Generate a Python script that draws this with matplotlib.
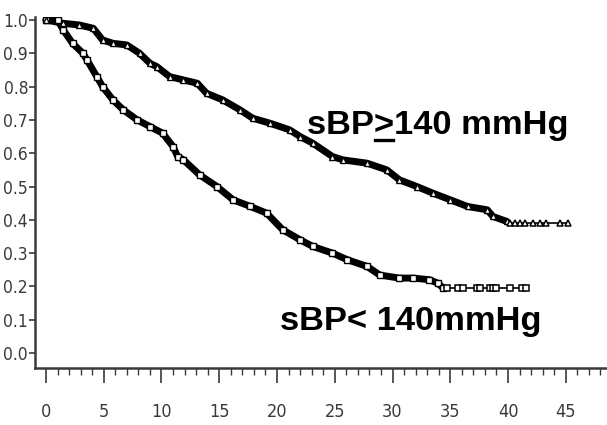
import numpy as np
import matplotlib
matplotlib.use("Agg")
import matplotlib.pyplot as plt
from matplotlib.font_manager import FontProperties
from matplotlib.lines import Line2D


# survival estimates (time, proportion) for the two blood-pressure groups
LOW_TIME = [0, 1.0, 1.5, 2.3, 3.2, 3.55, 4.4, 4.9, 5.8, 6.7, 7.9, 9.0, 10.1,
            11.0, 11.4, 11.9, 13.3, 14.8, 16.2, 17.7, 19.1, 20.5, 22.0, 23.1,
            24.8, 26.1, 27.8, 28.9, 30.6, 31.8, 33.2, 33.9, 34.4]
LOW_SURV = [1.0, 1.0, 0.97, 0.93, 0.90, 0.88, 0.83, 0.80, 0.76, 0.73, 0.70,
            0.68, 0.66, 0.62, 0.59, 0.58, 0.535, 0.50, 0.46, 0.44, 0.42, 0.37,
            0.34, 0.32, 0.30, 0.28, 0.26, 0.234, 0.225, 0.225, 0.22, 0.21,
            0.195]
LOW_TAIL_TIME = [34.7, 35.7, 36.1, 37.3, 37.6, 38.4, 38.7, 39.0, 40.2, 41.2,
                 41.6]
LOW_TAIL_SURV = 0.195

HIGH_TIME = [0, 1.5, 2.9, 4.1, 4.9, 5.8, 7.0, 8.1, 9.0, 9.6, 10.7, 11.9,
             13.1, 13.9, 15.3, 16.8, 17.9, 19.4, 21.1, 22.0, 23.1, 24.8, 25.7,
             27.8, 29.5, 30.6, 32.1, 33.5, 35.0, 36.5, 38.2, 38.7, 39.9]
HIGH_SURV = [1.0, 0.99, 0.985, 0.975, 0.94, 0.93, 0.925, 0.90, 0.87, 0.86,
             0.83, 0.82, 0.81, 0.78, 0.76, 0.73, 0.705, 0.69, 0.67, 0.65, 0.63,
             0.59, 0.58, 0.57, 0.55, 0.52, 0.50, 0.48, 0.46, 0.44, 0.43, 0.41,
             0.395]
HIGH_TAIL_TIME = [40.2, 40.6, 41.0, 41.5, 42.2, 42.8, 43.3, 44.5, 45.2]
HIGH_TAIL_SURV = 0.39

X_TICKS = list(range(0, 50, 5))
Y_TICKS = [round(v * 0.1, 1) for v in range(11)]

AXIS_GREY = "#3a3a3a"
X_TICK_FONT = FontProperties(family=["DejaVu Sans"], stretch="condensed",
                             size=13)
Y_TICK_FONT = FontProperties(family=["DejaVu Sans"], stretch="condensed",
                             size=12.5)


def draw_group(ax, t, s, tail_t, tail_s, marker):
    # dense part of the curve: heavy band with open censor markers on top
    ax.plot(t, s, color="black", lw=5, solid_capstyle="round",
            solid_joinstyle="round", zorder=2)
    ax.plot(t, s, linestyle="none", marker=marker, ms=4.5, mfc="white",
            mec="black", mew=1.0, zorder=3)
    # flat tail after the last event
    tail_x = [t[-1]] + tail_t
    tail_y = [tail_s] * len(tail_x)
    ax.plot([t[-1], t[-1]], [s[-1], tail_s], color="black", lw=1.2, zorder=2)
    ax.plot(tail_x, tail_y, color="black", lw=1.2, zorder=2)
    ax.plot(tail_t, [tail_s] * len(tail_t), linestyle="none", marker=marker,
            ms=5, mfc="white", mec="black", mew=1.1, zorder=3)


def main():
    fig = plt.figure(figsize=(6.07, 4.25), dpi=100)
    ax = fig.add_axes([35 / 607, 57 / 425, 572 / 607, 351 / 425])

    draw_group(ax, LOW_TIME, LOW_SURV, LOW_TAIL_TIME, LOW_TAIL_SURV, "s")
    draw_group(ax, HIGH_TIME, HIGH_SURV, HIGH_TAIL_TIME, HIGH_TAIL_SURV, "^")

    ax.set_xlim(-0.95, 48.57)
    ax.set_ylim(-0.045, 1.009)

    for side in ("top", "right"):
        ax.spines[side].set_visible(False)
    for side in ("left", "bottom"):
        ax.spines[side].set_color(AXIS_GREY)
        ax.spines[side].set_linewidth(1.8)

    ax.set_xticks(X_TICKS)
    ax.set_xticks(range(0, 49), minor=True)
    ax.set_yticks(Y_TICKS)
    ax.set_xticklabels([str(v) for v in X_TICKS])
    ax.set_yticklabels([f"{v:.1f}" for v in Y_TICKS])

    ax.tick_params(axis="x", which="major", length=11, width=1.2,
                   color=AXIS_GREY, pad=14, labelcolor=AXIS_GREY)
    ax.tick_params(axis="x", which="minor", length=5, width=1.0,
                   color=AXIS_GREY)
    ax.tick_params(axis="y", length=4, width=1.2, color=AXIS_GREY, pad=1,
                   labelcolor=AXIS_GREY)
    for lab in ax.get_xticklabels():
        lab.set_fontproperties(X_TICK_FONT)
    for lab in ax.get_yticklabels():
        lab.set_fontproperties(Y_TICK_FONT)

    label_font = FontProperties(family=["Liberation Sans", "DejaVu Sans"],
                                weight="bold", size=24.8)
    high_label = ax.text(22.6, 0.658, "sBP>140 mmHg", fontproperties=label_font,
                         va="baseline", ha="left", color="black")
    ax.text(20.3, 0.069, "sBP< 140mmHg", fontproperties=label_font,
            va="baseline", ha="left", color="black")

    # underline the ">" so it reads as "greater than or equal"
    fig.canvas.draw()
    renderer = fig.canvas.get_renderer()
    box = high_label.get_window_extent(renderer)
    w_pre, _, _ = renderer.get_text_width_height_descent(
        "sBP", label_font, ismath=False)
    w_sym, _, _ = renderer.get_text_width_height_descent(
        "sBP>", label_font, ismath=False)
    base_y = ax.transData.transform((22.6, 0.658))[1]
    to_fig = fig.transFigure.inverted()
    p0 = to_fig.transform((box.x0 + w_pre + 1, base_y - 6))
    p1 = to_fig.transform((box.x0 + w_sym - 1, base_y - 6))
    fig.add_artist(Line2D([p0[0], p1[0]], [p0[1], p1[1]], color="black",
                          lw=2.4, transform=fig.transFigure))

    fig.savefig("out.png", dpi=100)
    plt.close(fig)


if __name__ == "__main__":
    main()
